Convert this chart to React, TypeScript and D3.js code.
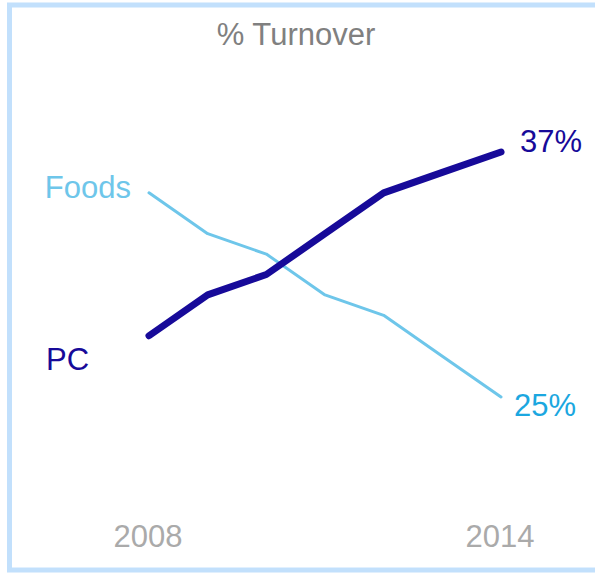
import React, { useEffect, useRef } from 'react'
import * as d3 from 'd3'

// chart values
const years = [2008, 2009, 2010, 2011, 2012, 2013, 2014]
const pcValues = [28, 30, 31, 33, 35, 36, 37]
const foodsValues = [35, 33, 32, 30, 29, 27, 25]
const yearTicks = [2008, 2014]

const PC_COLOR = '#170a99'
const FOODS_COLOR = '#6ec6ea'

export default function App() {
  const svgRef = useRef<SVGSVGElement | null>(null)

  useEffect(() => {
    if (!svgRef.current) return
    const width = 595
    const height = 573
    const svg = d3.select(svgRef.current)
    svg.selectAll('*').remove()
    svg.attr('width', width).attr('height', height)

    const font = 'Arial, "Liberation Sans", sans-serif'
    const fs = 31

    // frame
    svg.append('rect')
      .attr('x', 9.5)
      .attr('y', 5)
      .attr('width', 600)
      .attr('height', 565)
      .attr('fill', 'white')
      .attr('stroke', '#c2e0fc')
      .attr('stroke-width', 5)

    const x = d3.scaleLinear().domain([2008, 2014]).range([149, 501])
    const y = d3.scaleLinear().domain([25, 37]).range([397, 152])

    const line = d3.line<number>()
      .x((_, i) => x(years[i]))
      .y(d => y(d))

    svg.append('path')
      .datum(foodsValues)
      .attr('d', line)
      .attr('fill', 'none')
      .attr('stroke', FOODS_COLOR)
      .attr('stroke-width', 3)
      .attr('stroke-linejoin', 'round')
      .attr('stroke-linecap', 'round')

    svg.append('path')
      .datum(pcValues)
      .attr('d', line)
      .attr('fill', 'none')
      .attr('stroke', PC_COLOR)
      .attr('stroke-width', 7)
      .attr('stroke-linejoin', 'round')
      .attr('stroke-linecap', 'round')

    // title
    svg.append('text')
      .attr('x', 296)
      .attr('y', 45)
      .attr('text-anchor', 'middle')
      .attr('font-family', font)
      .attr('font-size', fs)
      .attr('fill', '#808080')
      .text('% Turnover')

    // series names
    svg.append('text')
      .attr('x', x(2008) - 18)
      .attr('y', y(foodsValues[0]) + 5)
      .attr('text-anchor', 'end')
      .attr('font-family', font)
      .attr('font-size', fs)
      .attr('fill', FOODS_COLOR)
      .text('Foods')

    svg.append('text')
      .attr('x', 46)
      .attr('y', 370)
      .attr('font-family', font)
      .attr('font-size', fs)
      .attr('fill', PC_COLOR)
      .text('PC')

    // end values
    const last = years.length - 1
    svg.append('text')
      .attr('x', x(years[last]) + 19)
      .attr('y', y(pcValues[last]))
      .attr('font-family', font)
      .attr('font-size', fs)
      .attr('fill', PC_COLOR)
      .text(`${pcValues[last]}%`)

    svg.append('text')
      .attr('x', x(years[last]) + 13)
      .attr('y', y(foodsValues[last]) + 19)
      .attr('font-family', font)
      .attr('font-size', fs)
      .attr('fill', '#1ba7e0')
      .text(`${foodsValues[last]}%`)

    // year labels
    svg.selectAll('text.year')
      .data(yearTicks)
      .enter()
      .append('text')
      .attr('class', 'year')
      .attr('x', d => x(d) - 1)
      .attr('y', 547)
      .attr('text-anchor', 'middle')
      .attr('font-family', font)
      .attr('font-size', fs)
      .attr('fill', '#aaaaaa')
      .text(d => String(d))
  }, [])

  return (
    <svg ref={svgRef} style={{ position: 'absolute', left: 0, top: 0 }}></svg>
  )
}
